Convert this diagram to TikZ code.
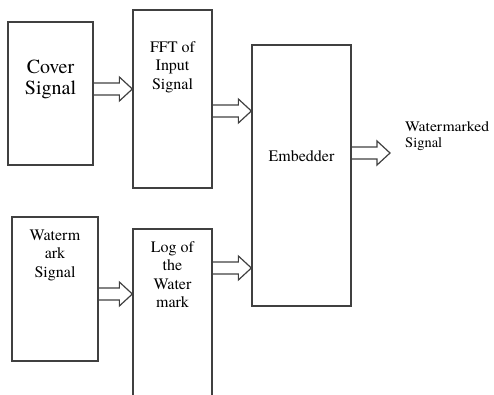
\documentclass[tikz,border=0pt]{standalone}
\usepackage{fontspec}
\setmainfont{texgyretermes}[Extension=.otf, UprightFont=*-regular, BoldFont=*-bold, ItalicFont=*-italic, BoldItalicFont=*-bolditalic]
\usepackage{tikz}
\usetikzlibrary{positioning}
\usepackage{xcolor}

% 空心箭头: 起点, 终点, 高度
\newcommand{\hollowarrow}[3]{%
  \path (#1 |- 0,#3) coordinate (tail) (#2 |- 0,#3) coordinate (tip);
  \draw[arrowline] ([yshift=6pt]tail) -- ([xshift=-13pt,yshift=6pt]tip) -- ([xshift=-13pt,yshift=12pt]tip) -- (tip)
    -- ([xshift=-13pt,yshift=-12pt]tip) -- ([xshift=-13pt,yshift=-6pt]tip) -- ([yshift=-6pt]tail);}

\begin{document}
\begin{tikzpicture}[x=1pt, y=-1pt,
    % 设定样式
    blocknode/.style={rectangle, draw=black!75, line width=1.3pt, fill=white, inner sep=0pt},
    bigtext/.style={align=center, inner sep=0pt, font=\fontsize{20}{21}\selectfont},
    midtext/.style={align=center, inner sep=0pt, font=\fontsize{16}{18.5}\selectfont},
    smalltext/.style={align=left, inner sep=0pt, font=\fontsize{14.5}{16}\selectfont},
    arrowline/.style={draw=black!75, line width=1.2pt, line join=miter},
    ]
    \useasboundingbox (0,0) rectangle (494,394);

    %定义节点:Nodes
    \node[blocknode, minimum width=85pt, minimum height=143pt] (cover) at (50.5,93.5) {};
    \node[blocknode, minimum width=79pt, minimum height=178pt] (fft)   at (172.5,99) {};
    \node[blocknode, minimum width=99pt, minimum height=261pt] (emb)   at (301.5,175.5) {};
    \node[blocknode, minimum width=86pt, minimum height=144pt] (wm)    at (55,289) {};
    \node[blocknode, minimum width=79pt, minimum height=191pt] (logwm) at (172.5,324.5) {};
    \coordinate (out) at (390,153);

    %Texts
    \node[bigtext] (covertxt) [below=38pt of cover.north] {Cover\\Signal};
    \node[midtext] (ffttxt)   [below=32pt of fft.north]   {FFT of\\Input\\Signal};
    \node[midtext] (embtxt)   [below=106pt of emb.north]  {Embedder};
    \node[midtext] (wmtxt)    [below=13pt of wm.north]    {Waterm\\ark\\Signal};
    \node[midtext] (logtxt)   [below=13pt of logwm.north] {Log of\\the\\Water\\mark};
    \node[smalltext] (outtxt) [right=15pt of out, yshift=17pt] {{\addfontfeature{FakeStretch=1.08}Watermarked}\\Signal};

    %Lines
    \hollowarrow{cover.east}{fft.west}{89}
    \hollowarrow{fft.east}{emb.west}{111}
    \hollowarrow{wm.east}{logwm.west}{294}
    \hollowarrow{logwm.east}{emb.west}{268}
    \hollowarrow{emb.east}{out}{153}

\end{tikzpicture}
\end{document}
